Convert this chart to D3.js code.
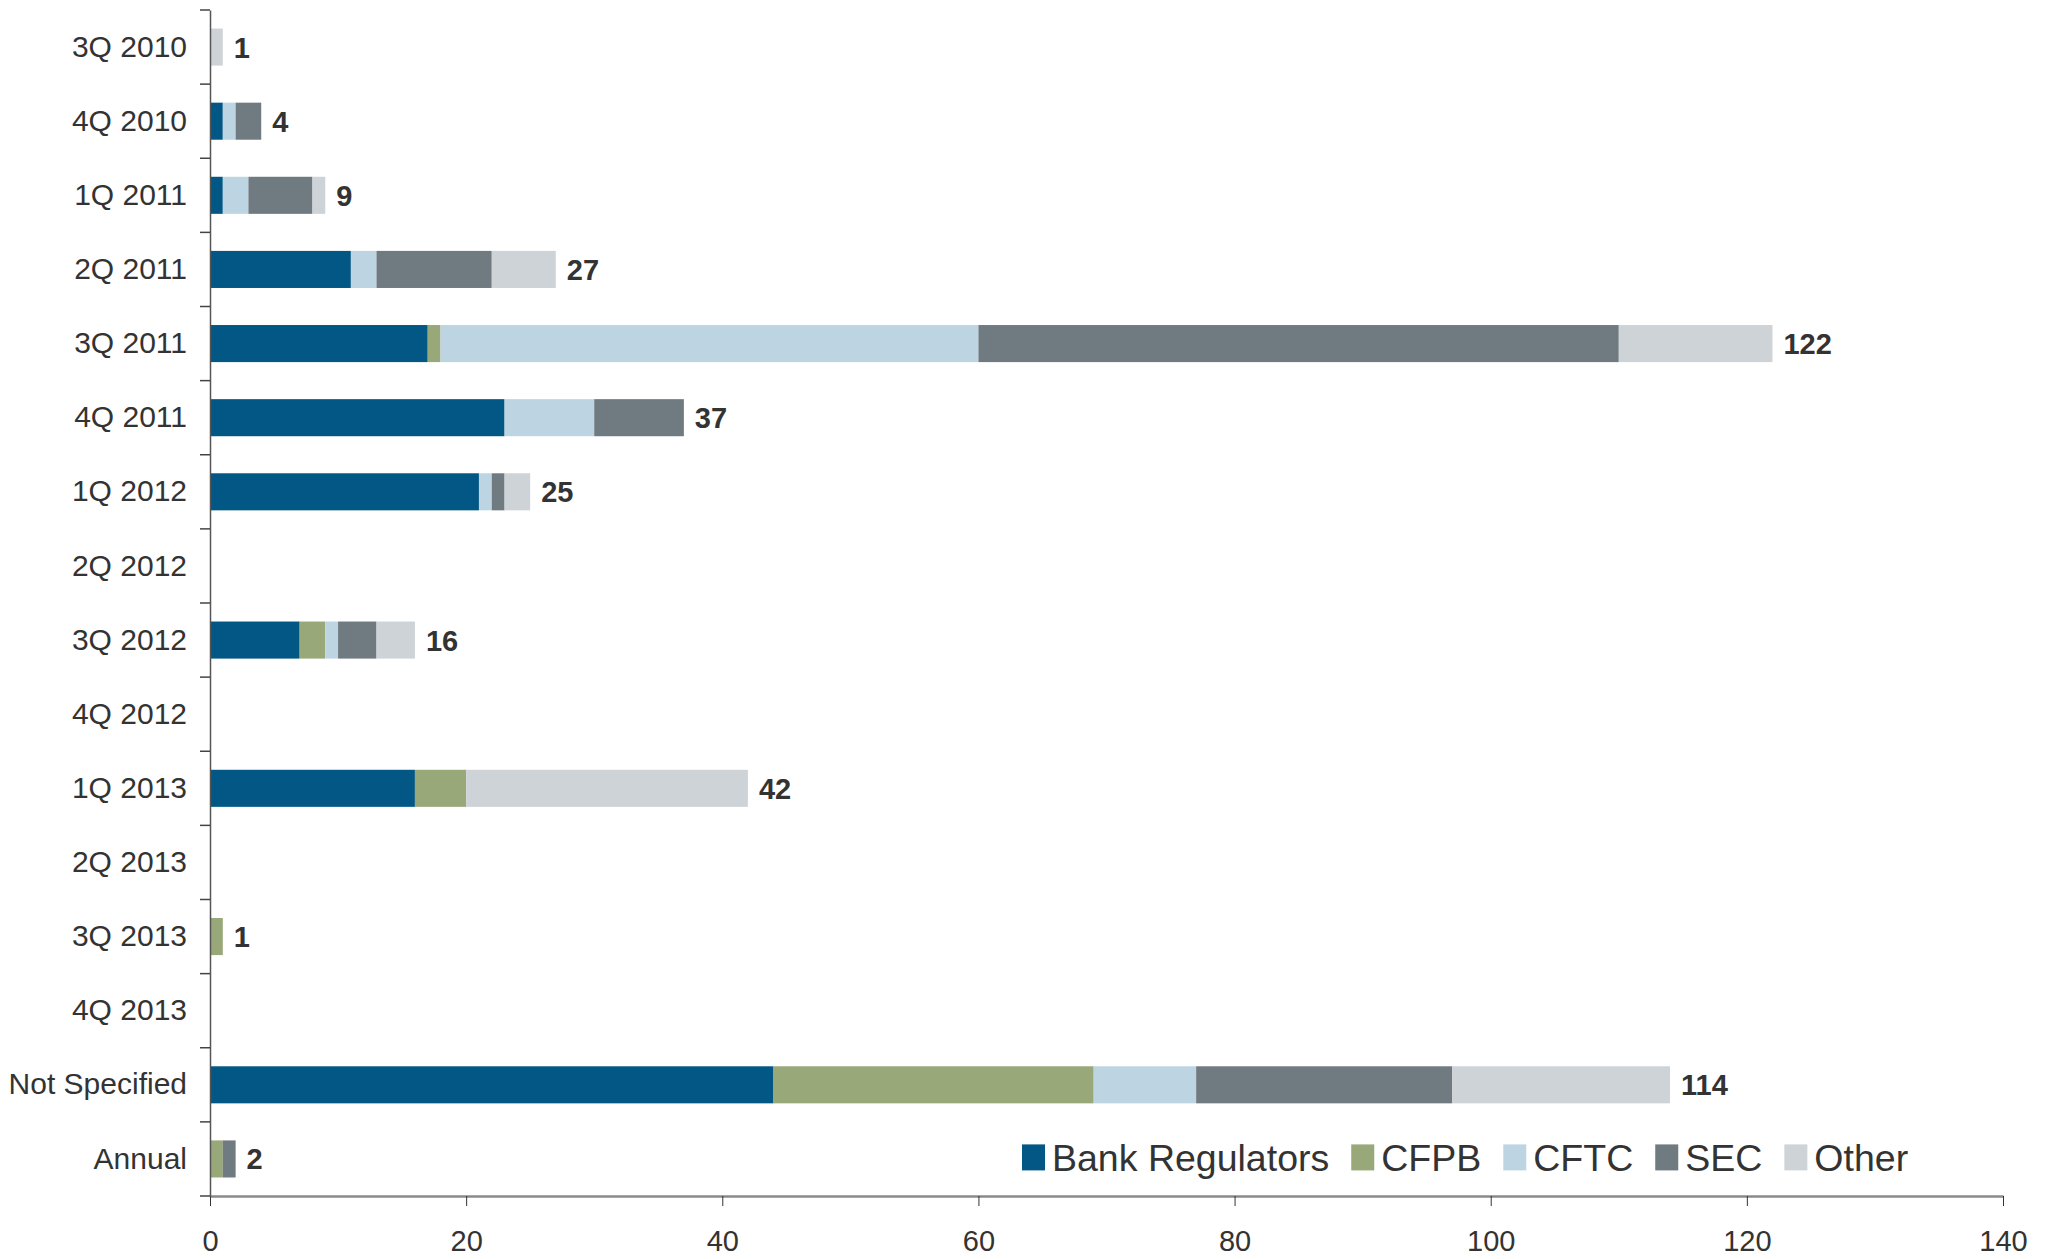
<!DOCTYPE html>
<html lang="en">
  <head>
    <meta charset="UTF-8" />
    <title>Rulemaking by quarter</title>
    <style>
      body { margin: 0; background: #fff; }
      svg text { font-family: "Liberation Sans", Arial, Helvetica, sans-serif; fill: #333; }
      .cat text { font-size: 30px; }
      .xaxis text { font-size: 29px; }
      .total { font-size: 29px; font-weight: bold; }
      .legend text { font-size: 37.5px; }
    </style>
  </head>
  <body>
    <script src="https://cdn.jsdelivr.net/npm/d3@7"></script>
    <script>
      // data
      var categories = ["3Q 2010", "4Q 2010", "1Q 2011", "2Q 2011", "3Q 2011", "4Q 2011",
                        "1Q 2012", "2Q 2012", "3Q 2012", "4Q 2012", "1Q 2013", "2Q 2013",
                        "3Q 2013", "4Q 2013", "Not Specified", "Annual"];
      var seriesNames = ["Bank Regulators", "CFPB", "CFTC", "SEC", "Other"];
      var bankRegulators = [0, 1, 1, 11, 17, 23, 21, 0, 7, 0, 16, 0, 0, 0, 44, 0];
      var cfpb           = [0, 0, 0, 0, 1, 0, 0, 0, 2, 0, 4, 0, 1, 0, 25, 1];
      var cftc           = [0, 1, 2, 2, 42, 7, 1, 0, 1, 0, 0, 0, 0, 0, 8, 0];
      var sec            = [0, 2, 5, 9, 50, 7, 1, 0, 3, 0, 0, 0, 0, 0, 20, 1];
      var other          = [1, 0, 1, 5, 12, 0, 2, 0, 3, 0, 22, 0, 0, 0, 17, 0];
      var xTicks = [0, 20, 40, 60, 80, 100, 120, 140];
      var colors = ["#035784", "#98a878", "#bdd5e2", "#6f7a81", "#ced3d7"];

      var w = 2047, h = 1259;
      var margin = { top: 10, right: 44, bottom: 63, left: 210 };

      var data = categories.map(function(c, i) {
        return {
          cat: c,
          "Bank Regulators": bankRegulators[i],
          "CFPB": cfpb[i],
          "CFTC": cftc[i],
          "SEC": sec[i],
          "Other": other[i]
        };
      });

      var stacked = d3.stack().keys(seriesNames)(data);

      var svg = d3.select("body").append("svg")
        .attr("width", w)
        .attr("height", h);

      var xScale = d3.scaleLinear()
        .domain([0, 140])
        .range([margin.left, w - margin.right]);

      var yScale = d3.scaleBand()
        .domain(categories)
        .range([margin.top, h - margin.bottom])
        .paddingInner(0.5)
        .paddingOuter(0.25);

      var color = d3.scaleOrdinal().domain(seriesNames).range(colors);

      // bars
      svg.append("g")
        .selectAll("g")
        .data(stacked)
        .enter()
        .append("g")
        .attr("fill", function(d) { return color(d.key); })
        .selectAll("rect")
        .data(function(d) { return d; })
        .enter()
        .append("rect")
        .attr("x", function(d) { return xScale(d[0]); })
        .attr("y", function(d) { return yScale(d.data.cat); })
        .attr("width", function(d) { return xScale(d[1]) - xScale(d[0]); })
        .attr("height", yScale.bandwidth());

      // totals
      svg.append("g")
        .selectAll("text")
        .data(data.filter(function(d) { return d3.sum(seriesNames, function(k) { return d[k]; }) > 0; }))
        .enter()
        .append("text")
        .attr("class", "total")
        .attr("x", function(d) { return xScale(d3.sum(seriesNames, function(k) { return d[k]; })) + 11; })
        .attr("y", function(d) { return yScale(d.cat) + yScale.bandwidth() / 2; })
        .attr("dy", "0.36em")
        .text(function(d) { return d3.sum(seriesNames, function(k) { return d[k]; }); });

      // x axis
      var xAxis = d3.axisBottom(xScale)
        .tickValues(xTicks)
        .tickSize(10)
        .tickPadding(24)
        .tickSizeOuter(0);

      var xg = svg.append("g")
        .attr("class", "xaxis")
        .attr("transform", "translate(0," + (h - margin.bottom) + ")")
        .call(xAxis);
      xg.select(".domain").attr("stroke", "#8a8a8a").attr("stroke-width", 2.5);
      xg.selectAll(".tick line").attr("stroke", "#333").attr("stroke-width", 1);

      // y axis: labels centred in band, ticks on band edges
      var yAxis = d3.axisLeft(yScale).tickSize(0).tickPadding(23);
      var yg = svg.append("g")
        .attr("class", "cat")
        .attr("transform", "translate(" + margin.left + ",0)")
        .call(yAxis);
      yg.select(".domain").attr("stroke", "#555").attr("stroke-width", 1.5);

      var step = yScale.step();
      var edges = d3.range(categories.length + 1).map(function(i) { return margin.top + i * step; });
      yg.selectAll(".edge")
        .data(edges)
        .enter()
        .append("line")
        .attr("class", "edge")
        .attr("x1", -10)
        .attr("x2", 0)
        .attr("y1", function(d) { return d; })
        .attr("y2", function(d) { return d; })
        .attr("stroke", "#444")
        .attr("stroke-width", 1.5);

      // legend
      var legend = svg.append("g")
        .attr("class", "legend")
        .attr("transform", "translate(1022," + (yScale("Annual") + 2) + ")");
      var lx = 0;
      seriesNames.forEach(function(name) {
        var item = legend.append("g").attr("transform", "translate(" + lx + ",0)");
        item.append("rect")
          .attr("x", 0)
          .attr("y", 2)
          .attr("width", 23)
          .attr("height", 26)
          .attr("fill", color(name));
        var t = item.append("text")
          .attr("x", 30)
          .attr("y", 15)
          .attr("dy", "0.36em")
          .text(name);
        lx += 30 + t.node().getComputedTextLength() + 22;
      });
    </script>
  </body>
</html>
